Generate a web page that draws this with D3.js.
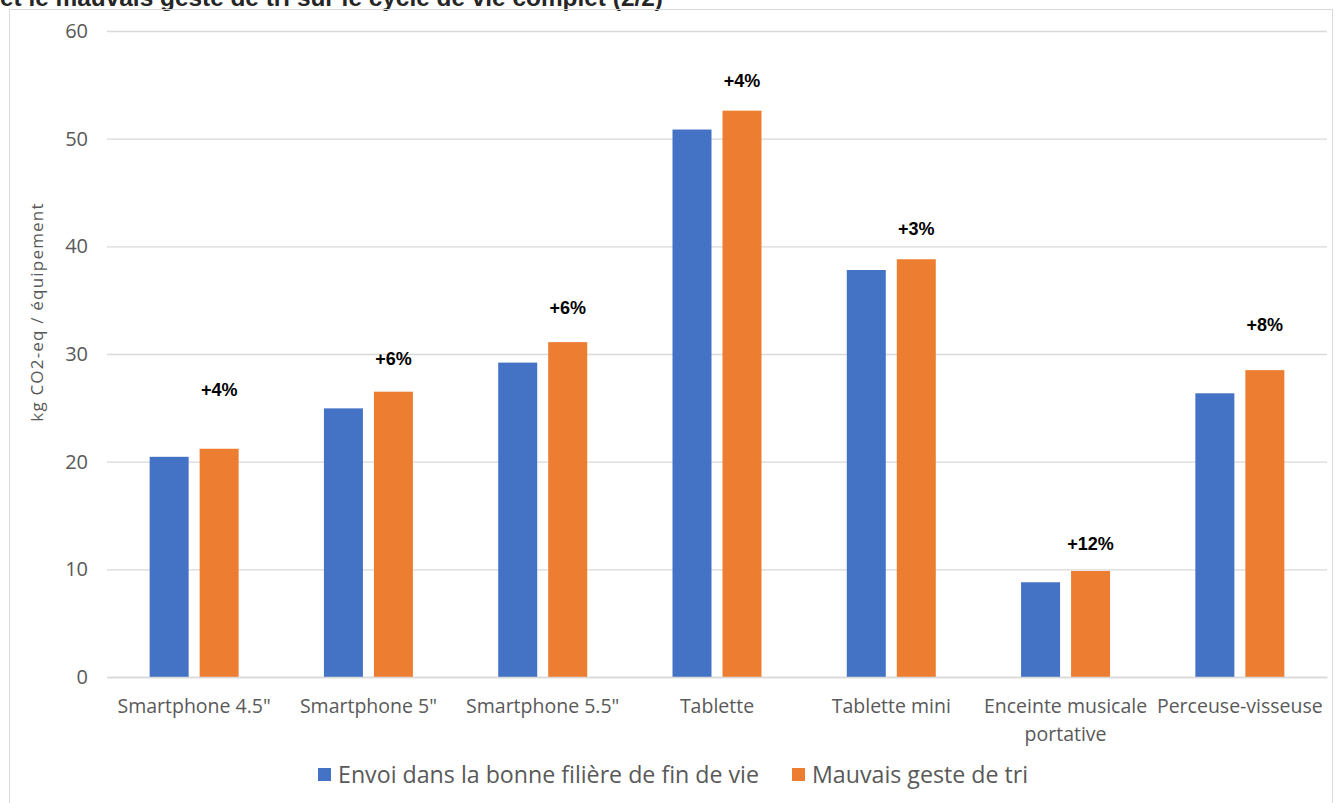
<!DOCTYPE html>
<html lang="fr">
<head>
<meta charset="utf-8">
<script src="https://cdn.jsdelivr.net/npm/d3@7"></script>
<style>
  html, body { margin: 0; padding: 0; background: #fff; }
  svg { display: block; }
  text { font-family: "Open Sans", "Noto Sans", sans-serif; }
</style>
</head>
<body>
<svg id="chart" width="1341" height="803"></svg>
<script>
// Equipment categories (second line of a label after "\n")
const categories = [
  "Smartphone 4.5\"", "Smartphone 5\"", "Smartphone 5.5\"", "Tablette",
  "Tablette mini", "Enceinte musicale\nportative", "Perceuse-visseuse"
];
// kg CO2-eq per device, full life cycle
const goodChannel = [20.45, 24.95, 29.2, 50.85, 37.8, 8.8, 26.35];
const wrongSorting = [21.2, 26.5, 31.1, 52.6, 38.8, 9.85, 28.5];
// Increase annotations and the height (kg CO2-eq) they sit at
const increaseLabels = ["+4%", "+6%", "+6%", "+4%", "+3%", "+12%", "+8%"];
const labelHeights = [26.66, 29.53, 34.27, 55.36, 41.61, 12.35, 32.69];
const yTicks = [0, 10, 20, 30, 40, 50, 60];
const seriesNames = ["Envoi dans la bonne filière de fin de vie", "Mauvais geste de tri"];
const colors = ["#4472C4", "#ED7D31"];

const svg = d3.select("#chart");

// Title line, partly above the frame
svg.append("text")
  .attr("x", 0).attr("y", 6)
  .attr("font-weight", "bold").attr("font-size", 24.4)
  .attr("fill", "#262626")
  .style("font-family", "'Liberation Sans', Arial, sans-serif")
  .text("et le mauvais geste de tri sur le cycle de vie complet (2/2)");

// Chart frame
svg.append("rect")
  .attr("x", 9.5).attr("y", 9.5).attr("width", 1323).attr("height", 800)
  .attr("fill", "none").attr("stroke", "#d9d9d9");

const plot = { left: 107, right: 1327, top: 31, bottom: 677 };

const x = d3.scaleBand().domain(categories).range([plot.left, plot.right]);
const y = d3.scaleLinear().domain([0, 60]).range([plot.bottom, plot.top]);
const sub = d3.scaleBand().domain([0, 1]).range([-44.5, 44.5]).paddingInner(0.22);

// Gridlines and y tick labels
const yAxis = d3.axisLeft(y).tickValues(yTicks).tickSize(-(plot.right - plot.left)).tickPadding(19);
const gy = svg.append("g").attr("transform", `translate(${plot.left},0)`).call(yAxis);
gy.select(".domain").remove();
gy.selectAll(".tick line").attr("stroke", "#d9d9d9").attr("stroke-width", 1.3);
gy.selectAll(".tick text")
  .attr("font-size", 20).attr("fill", "#595959")
  .style("font-family", "'Open Sans', sans-serif");

// Y axis title
svg.append("text")
  .attr("transform", "translate(43,312) rotate(-90)")
  .attr("text-anchor", "middle")
  .attr("font-size", 17).attr("fill", "#595959")
  .attr("letter-spacing", 1.2)
  .text("kg CO2-eq / équipement");

// Bars
const series = [goodChannel, wrongSorting];
series.forEach((vals, s) => {
  svg.append("g").selectAll("rect")
    .data(vals)
    .join("rect")
    .attr("x", (d, i) => x(categories[i]) + x.bandwidth() / 2 + sub(s))
    .attr("width", sub.bandwidth())
    .attr("y", d => y(d))
    .attr("height", d => y(0) - y(d))
    .attr("fill", colors[s]);
});

// Increase labels above the orange bars
svg.append("g").selectAll("text")
  .data(increaseLabels)
  .join("text")
  .attr("x", (d, i) => x(categories[i]) + x.bandwidth() / 2 + sub(1) + sub.bandwidth() / 2)
  .attr("y", (d, i) => y(labelHeights[i]))
  .attr("dy", "0.35em")
  .attr("text-anchor", "middle")
  .attr("font-size", 18).attr("font-weight", "bold").attr("fill", "#000")
  .style("font-family", "'Liberation Sans', 'Open Sans', sans-serif")
  .text(d => d);

// X axis line and category labels
const xAxis = d3.axisBottom(x).tickSize(0).tickPadding(0).tickFormat("");
const gx = svg.append("g").attr("transform", `translate(0,${plot.bottom})`).call(xAxis);
gx.select(".domain").attr("stroke", "#d9d9d9").attr("stroke-width", 1.3);
const catG = svg.append("g");
categories.forEach(c => {
  const lines = c.split("\n");
  const t = catG.append("text")
    .attr("x", x(c) + x.bandwidth() / 2)
    .attr("y", 713)
    .attr("text-anchor", "middle")
    .attr("font-size", 19.5).attr("fill", "#595959");
  lines.forEach((ln, k) => {
    t.append("tspan").attr("x", x(c) + x.bandwidth() / 2).attr("dy", k === 0 ? 0 : 28).text(ln);
  });
});

// Legend
const legendItems = [
  { name: seriesNames[0], color: colors[0], x: 318 },
  { name: seriesNames[1], color: colors[1], x: 792 }
];
const lg = svg.append("g");
legendItems.forEach(it => {
  lg.append("rect").attr("x", it.x).attr("y", 768).attr("width", 13).attr("height", 13).attr("fill", it.color);
  lg.append("text").attr("x", it.x + 20).attr("y", 783)
    .attr("font-size", 23.2).attr("fill", "#595959").text(it.name);
});
</script>
</body>
</html>
